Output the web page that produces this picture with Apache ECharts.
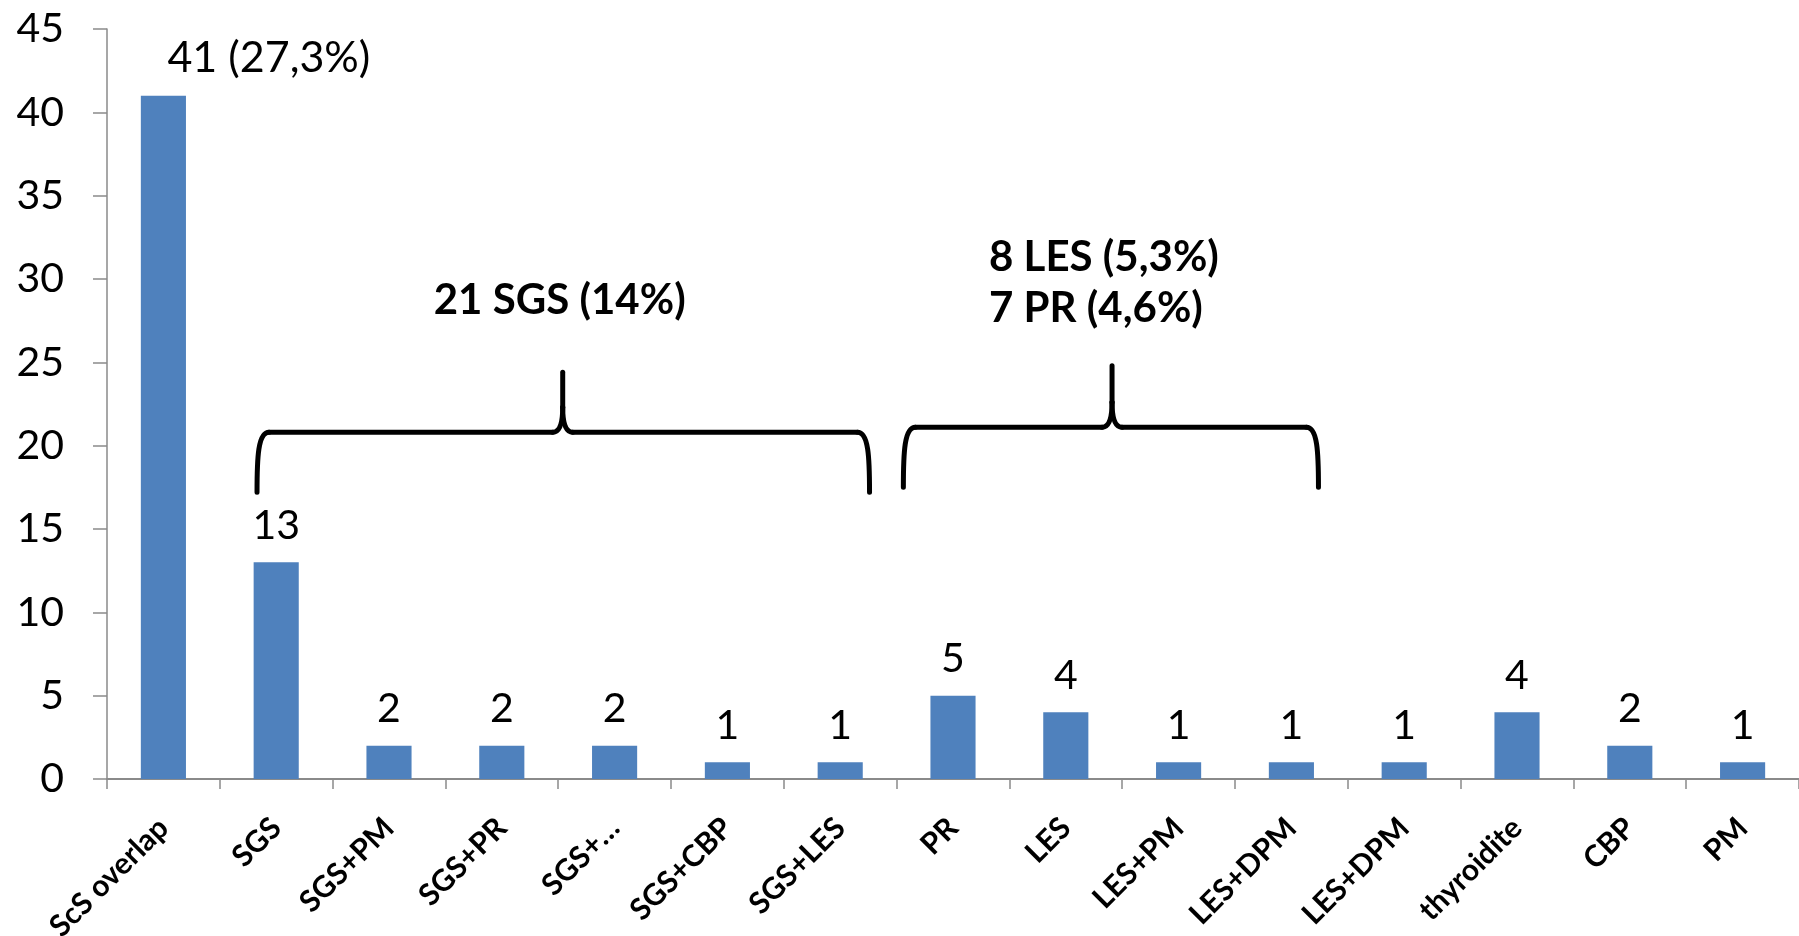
<!DOCTYPE html>
<html>
<head>
<meta charset="utf-8">
<script src="https://cdn.jsdelivr.net/npm/echarts@6/dist/echarts.min.js"></script>
<style>
html,body{margin:0;padding:0;background:#fff;}
#chart{width:1799px;height:936px;}
</style>
</head>
<body>
<div id="chart"></div>
<script>
// ---- data ----
var categories = ['ScS overlap','SGS','SGS+PM','SGS+PR','SGS+\u2026','SGS+CBP','SGS+LES','PR','LES','LES+PM','LES+DPM','LES+DPM','thyroidite','CBP','PM'];
var values = [41, 13, 2, 2, 2, 1, 1, 5, 4, 1, 1, 1, 4, 2, 1];
var valueLabels = ['41 (27,3%)','13','2','2','2','1','1','5','4','1','1','1','4','2','1'];
var yTicks = [0, 5, 10, 15, 20, 25, 30, 35, 40, 45];
var groupTexts = ['21 SGS (14%)', '8 LES (5,3%)\n7 PR (4,6%)'];

// ---- annotation geometry (category units from grid left, axis values) ----
var braces = [
  {from: 1.33, to: 6.76, mid: 4.04, bottom: 17.2, bar: 20.8, tip: 24.4},
  {from: 7.06, to: 10.74, mid: 8.91, bottom: 17.5, bar: 21.1, tip: 24.8}
];

var FONT = 'Lato';
var chart = echarts.init(document.getElementById('chart'), null, {renderer: 'canvas'});

var option = {
  animation: false,
  backgroundColor: '#ffffff',
  grid: {left: 107, right: 0, top: 29, bottom: 157, containLabel: false, outerBoundsMode: 'none'},
  xAxis: {
    type: 'category',
    data: categories,
    axisLine: {show: true, lineStyle: {color: '#8a8a8a', width: 2}},
    axisTick: {show: true, alignWithLabel: false, length: 10, lineStyle: {color: '#8a8a8a', width: 1.5}},
    axisLabel: {
      interval: 0, rotate: 45, margin: 44,
      fontFamily: FONT, fontWeight: 'bold', fontSize: 30, color: '#000'
    },
    splitLine: {show: false}
  },
  yAxis: {
    type: 'value',
    min: yTicks[0], max: yTicks[yTicks.length - 1], interval: yTicks[1] - yTicks[0],
    axisLine: {show: true, lineStyle: {color: '#8a8a8a', width: 1.5}},
    axisTick: {show: true, inside: false, length: 14, lineStyle: {color: '#8a8a8a', width: 1.5}},
    axisLabel: {margin: 43, fontFamily: FONT, fontSize: 41, color: '#000'},
    splitLine: {show: false}
  },
  series: [{
    type: 'bar',
    barWidth: '40%',
    data: values.map(function (v, i) {
      var d = {value: v};
      if (i === 0) {
        d.label = {align: 'left', offset: [4, 0], fontSize: 43};
      }
      return d;
    }),
    itemStyle: {color: '#4f81bd'},
    label: {
      show: true, position: 'top', distance: 16,
      fontFamily: FONT, fontSize: 41, color: '#000',
      formatter: function (p) { return valueLabels[p.dataIndex]; }
    }
  }]
};
chart.setOption(option);

function drawAnnotations() {
  var p0 = chart.convertToPixel({xAxisIndex: 0, yAxisIndex: 0}, [0, 0]);
  var p1 = chart.convertToPixel({xAxisIndex: 0, yAxisIndex: 0}, [1, 0]);
  var band = p1[0] - p0[0];
  var left = p0[0] - band / 2;
  function X(u) { return left + u * band; }
  function Y(v) { return chart.convertToPixel({yAxisIndex: 0}, v); }

  var stroke = {stroke: '#000', lineWidth: 5, fill: null, lineCap: 'round'};
  var elements = [];
  function line(a, b, c, d) {
    elements.push({type: 'line', shape: {x1: a, y1: b, x2: c, y2: d}, style: stroke, silent: true});
  }
  function curve(x1, y1, cx1, cy1, cx2, cy2, x2, y2) {
    elements.push({type: 'bezierCurve',
      shape: {x1: x1, y1: y1, cpx1: cx1, cpy1: cy1, cpx2: cx2, cpy2: cy2, x2: x2, y2: y2},
      style: stroke, silent: true});
  }
  braces.forEach(function (b) {
    var x1 = X(b.from), x2 = X(b.to), xm = X(b.mid);
    var yb = Y(b.bottom), yh = Y(b.bar), yt = Y(b.tip);
    curve(x1, yb, x1, yh + 25, x1 + 1, yh, x1 + 12, yh);
    line(x1 + 12, yh, xm - 10, yh);
    curve(xm - 10, yh, xm - 3, yh, xm, yh - 8, xm, yh - 25);
    line(xm, yh - 25, xm, yt);
    curve(xm, yh - 25, xm, yh - 8, xm + 3, yh, xm + 10, yh);
    line(xm + 10, yh, x2 - 12, yh);
    curve(x2 - 12, yh, x2 - 1, yh, x2, yh + 25, x2, yb);
  });
  var t1x = X(braces[0].mid) - 3, t1y = Y(braces[0].tip) - 72;
  elements.push({
    type: 'text', x: t1x, y: t1y,
    style: {text: groupTexts[0], fontFamily: FONT, fontWeight: 'bold', fontSize: 42, fill: '#000', align: 'center', verticalAlign: 'middle'},
    silent: true
  });
  var t2x = X(braces[1].mid) - 123, t2y = Y(braces[1].tip) - 83;
  elements.push({
    type: 'text', x: t2x, y: t2y,
    style: {text: groupTexts[1], fontFamily: FONT, fontWeight: 'bold', fontSize: 42, fill: '#000', align: 'left', verticalAlign: 'middle', lineHeight: 51},
    silent: true
  });
  chart.setOption({graphic: {elements: elements}});
}
drawAnnotations();
</script>
</body>
</html>
